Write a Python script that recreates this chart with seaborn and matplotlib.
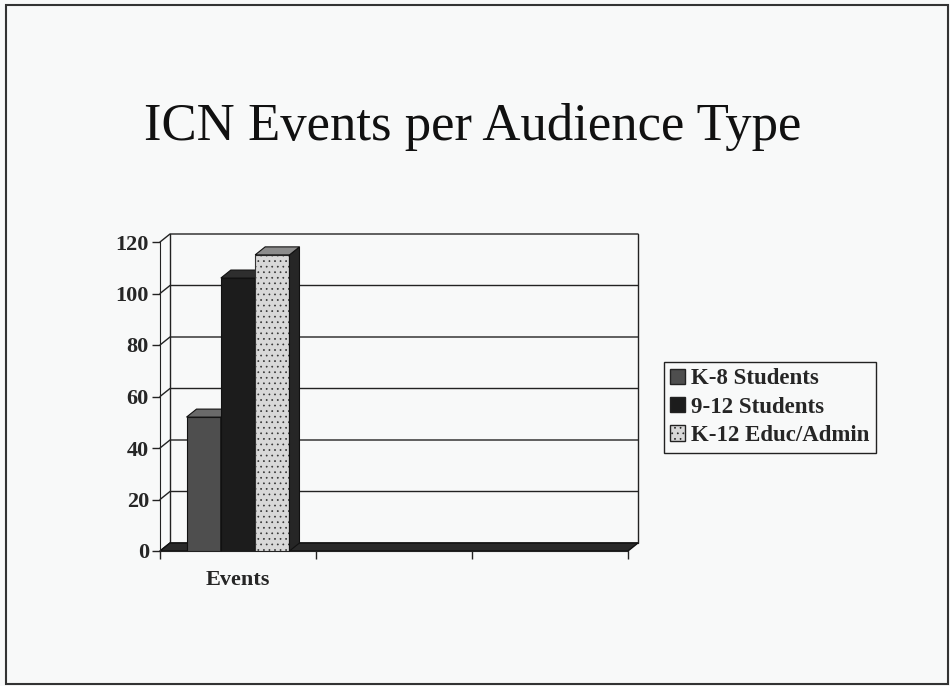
import numpy as np
import pandas as pd
import matplotlib.pyplot as plt
from matplotlib.patches import Polygon, Rectangle, Patch
import seaborn as sns

# chart values
categories = ['Events', 'Blank 1', 'Blank 2']
audiences = ['K-8 Students', '9-12 Students', 'K-12 Educ/Admin']
event_counts = [52, 106, 115]
bar_colors = ['#4e4e4e', '#1c1c1c', '#d8d8d8']
top_colors = ['#6a6a6a', '#2e2e2e', '#8c8c8c']
y_ticks = [0, 20, 40, 60, 80, 100, 120]

data = pd.DataFrame({'category': ['Events'] * len(audiences),
                     'audience': audiences,
                     'count': event_counts})

sns.set_style('white')
plt.rcParams['font.family'] = ['Liberation Serif', 'DejaVu Serif']
plt.rcParams['hatch.linewidth'] = 0.5

W, H = 950, 686
fig = plt.figure(figsize=(W / 100, H / 100), dpi=100)
fig.patch.set_facecolor('#f8f9f9')


def px_box(x0, y0, x1, y1):
    return [x0 / W, 1 - y1 / H, (x1 - x0) / W, (y1 - y0) / H]


# front plane of the 3D chart
ax = fig.add_axes(px_box(160, 242, 628, 551))
ax.set_facecolor('none')
sns.barplot(data=data, x='category', y='count', hue='audience',
            order=categories, hue_order=audiences, palette=bar_colors,
            width=0.66, saturation=1, edgecolor='#111111', linewidth=0.8,
            legend=False, ax=ax)
ax.set_xlim(-0.5, 2.5)
ax.set_ylim(0, 120)

# depth offset of the 3D look, converted to data units
depth_px = (10, 8)
dx = depth_px[0] * 3 / 468
dy = depth_px[1] * 120 / 309

# back wall gridlines with slanted connectors to the front axis
for y in y_ticks:
    ax.plot([-0.5, -0.5 + dx, 2.5 + dx], [y, y + dy, y + dy],
            color='#222222', lw=1.0, clip_on=False, zorder=1)
ax.plot([2.5 + dx, 2.5 + dx], [dy, 120 + dy], color='#222222', lw=1.0,
        clip_on=False, zorder=1)
ax.plot([-0.5 + dx, -0.5 + dx], [dy, 120 + dy], color='#222222', lw=1.0,
        clip_on=False, zorder=1)

# floor slab
floor = Polygon([(-0.5, 0), (2.5, 0), (2.5 + dx, dy), (-0.5 + dx, dy)],
                closed=True, facecolor='#2a2a2a', edgecolor='#111111',
                lw=1.0, clip_on=False, zorder=1.5)
ax.add_patch(floor)

# give each bar a top and a side face
bars = [p for p in ax.patches if isinstance(p, Rectangle) and p.get_height() > 0]
bars.sort(key=lambda p: p.get_x())
for i, bar in enumerate(bars):
    x0, w, h = bar.get_x(), bar.get_width(), bar.get_height()
    z = 3 + i
    bar.set_zorder(z)
    if i == 2:
        bar.set_hatch('...')
        bar.set_edgecolor('#333333')
    top = Polygon([(x0, h), (x0 + w, h), (x0 + w + dx, h + dy), (x0 + dx, h + dy)],
                  closed=True, facecolor=top_colors[i], edgecolor='#111111',
                  lw=0.8, clip_on=False, zorder=z)
    side = Polygon([(x0 + w, 0), (x0 + w + dx, dy), (x0 + w + dx, h + dy), (x0 + w, h)],
                   closed=True, facecolor='#262626', edgecolor='#111111',
                   lw=0.8, clip_on=False, zorder=z)
    ax.add_patch(side)
    ax.add_patch(top)

# axes, ticks and labels
for side_name in ['top', 'right']:
    ax.spines[side_name].set_visible(False)
ax.spines['left'].set_color('#222222')
ax.spines['bottom'].set_color('#222222')
ax.set_yticks(y_ticks)
ax.set_yticklabels([str(v) for v in y_ticks], fontweight='bold', fontsize=16)
ax.set_xticks([-0.5, 0.5, 1.5, 2.5])
ax.set_xticklabels([])
ax.set_xticks([0], minor=True)
ax.set_xticklabels(['Events'], minor=True, fontweight='bold', fontsize=16)
ax.tick_params(axis='both', which='major', direction='out', length=6,
               width=1, color='#222222', left=True, bottom=True)
ax.tick_params(axis='x', which='minor', length=0, pad=14)
ax.tick_params(axis='y', pad=2)
ax.set_xlabel('')
ax.set_ylabel('')

# legend box
handles = [Patch(facecolor=c, edgecolor='#222222', hatch='...' if i == 2 else None)
           for i, c in enumerate(bar_colors)]
fig.legend(handles, audiences, loc='upper left',
           bbox_to_anchor=(664 / W, 1 - 362 / H), frameon=True, fancybox=False,
           edgecolor='#222222', facecolor='#f8f9f9', framealpha=1,
           prop={'weight': 'bold', 'size': 16.5}, handlelength=0.65,
           handleheight=0.65, handletextpad=0.25, borderpad=0.28,
           labelspacing=0.32, borderaxespad=0)

fig.text(473 / W, 1 - 127 / H, 'ICN Events per Audience Type',
         ha='center', va='center', fontsize=38, color='#111111')

# slide border
fig.patches.append(Rectangle((6 / W, 1 - 684 / H), 942 / W, 679 / H,
                             transform=fig.transFigure, fill=False,
                             edgecolor='#333333', lw=1.5))

plt.savefig('out.png', dpi=100, facecolor=fig.get_facecolor())
